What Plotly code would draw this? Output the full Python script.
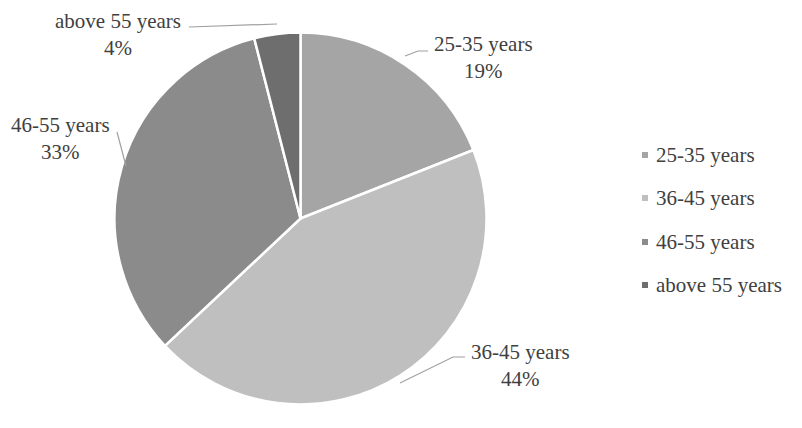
import plotly.graph_objects as go

# the page body adds an 8px margin, so the figure is drawn 8px in
OFF = 8
W, H = 802 - OFF, 428 - OFF

age_groups = ["25-35 years", "36-45 years", "46-55 years", "above 55 years"]
shares = [19, 44, 33, 4]
colors = ["#a5a5a5", "#bfbfbf", "#8b8b8b", "#6e6e6e"]

# label block centres and leader lines, in screen pixels
label_pos = [(483, 57), (520, 365), (60, 138), (118, 34)]
leaders = [
    [(405, 56), (418, 51), (428, 51)],
    [(400, 383), (453, 357), (465, 357)],
    [(126, 166), (117, 132)],
    [(277, 24), (189, 27)],
]
legend_y = [155, 198, 242, 285]
FONT = "Times New Roman, Liberation Serif, DejaVu Serif, serif"
TEXT = "#404040"


def px(x):
    return (x - OFF) / W


def py(y):
    return 1 - (y - OFF) / H


cx, cy, r = 300.5, 218.5, 186
fig = go.Figure(
    go.Pie(
        labels=age_groups,
        values=shares,
        sort=False,
        direction="clockwise",
        rotation=0,
        textinfo="none",
        hoverinfo="label+percent",
        marker={"colors": colors, "line": {"color": "white", "width": 2.5}},
        domain={"x": [px(cx - r), px(cx + r)], "y": [py(cy + r), py(cy - r)]},
        showlegend=False,
    )
)

for name, share, (lx, ly) in zip(age_groups, shares, label_pos):
    fig.add_annotation(
        x=px(lx), y=py(ly), xref="paper", yref="paper",
        text=f"{name}<br>{share}%", showarrow=False,
        xanchor="center", yanchor="middle",
        font={"family": FONT, "size": 21, "color": TEXT},
    )

for pts in leaders:
    path = "M " + " L ".join(f"{px(x)},{py(y)}" for x, y in pts)
    fig.add_shape(type="path", path=path, xref="paper", yref="paper",
                  line={"color": "#a0a0a0", "width": 1.2})

# legend drawn by hand to match the wide row spacing
for name, col, y in zip(age_groups, colors, legend_y):
    fig.add_shape(type="rect", xref="paper", yref="paper",
                  x0=px(642), x1=px(648), y0=py(y - 3), y1=py(y + 3),
                  fillcolor=col, line={"width": 0})
    fig.add_annotation(
        x=px(654), y=py(y), xref="paper", yref="paper", text=name,
        showarrow=False, xanchor="left", yanchor="middle",
        font={"family": FONT, "size": 21, "color": TEXT},
    )

fig.update_layout(
    width=W, height=H,
    margin={"l": 0, "r": 0, "t": 0, "b": 0},
    paper_bgcolor="white",
    plot_bgcolor="white",
)
fig.write_html("out.html")
